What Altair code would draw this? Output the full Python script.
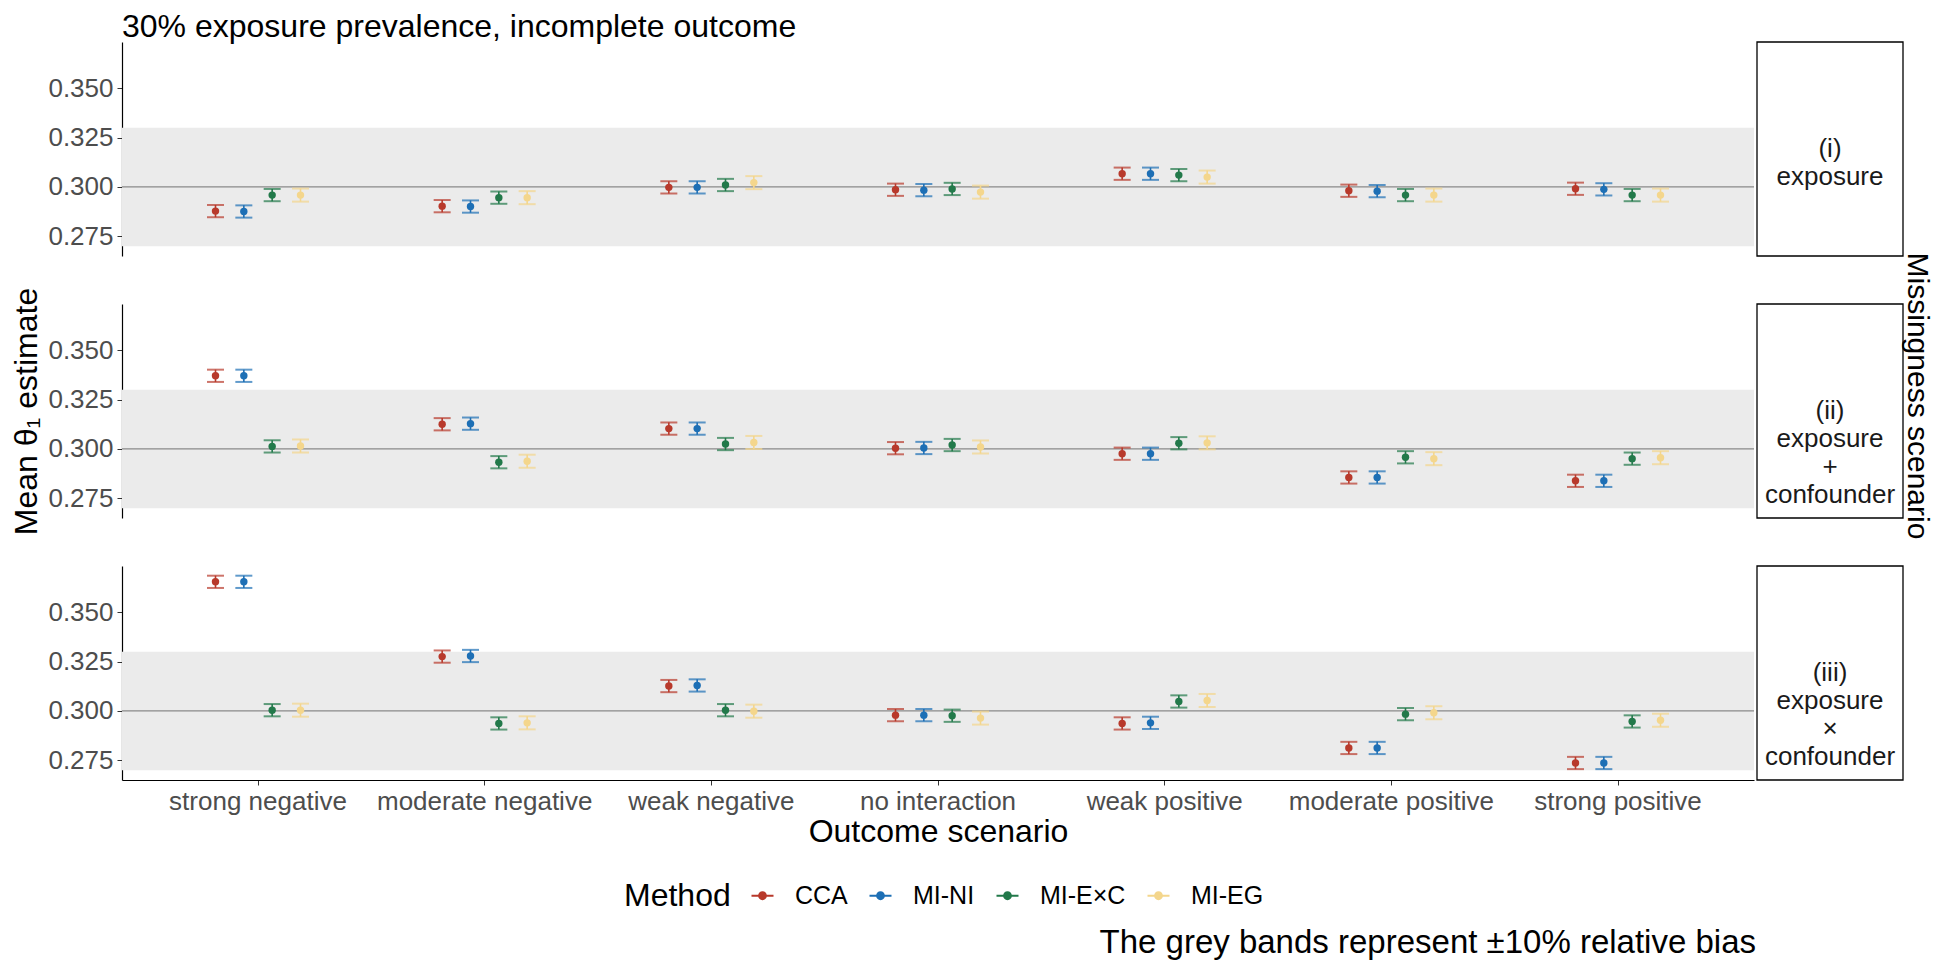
import altair as alt
import pandas as pd

scenarios = ["strong negative", "moderate negative", "weak negative", "no interaction",
             "weak positive", "moderate positive", "strong positive"]
methods = ["CCA", "MI-NI", "MI-E×C", "MI-EG"]
method_colors = ["#B8392B", "#1D6FB5", "#22794A", "#F4D68C"]
panel_labels = ["(i)\nexposure", "(ii)\nexposure\n+\nconfounder", "(iii)\nexposure\n×\nconfounder"]

# mean estimates, panel (i)
est_i_cca = [0.2878, 0.2903, 0.2998, 0.2986, 0.3067, 0.2981, 0.2991]
est_i_ni = [0.2876, 0.2901, 0.2998, 0.2984, 0.3067, 0.2979, 0.2988]
est_i_exc = [0.2959, 0.2946, 0.3010, 0.2990, 0.3060, 0.2959, 0.2959]
est_i_eg = [0.2959, 0.2946, 0.3022, 0.2974, 0.3050, 0.2959, 0.2959]
# panel (ii)
est_ii_cca = [0.3370, 0.3125, 0.3103, 0.3004, 0.2976, 0.2856, 0.2839]
est_ii_ni = [0.3370, 0.3128, 0.3103, 0.3005, 0.2976, 0.2856, 0.2839]
est_ii_exc = [0.3013, 0.2933, 0.3025, 0.3020, 0.3029, 0.2958, 0.2951]
est_ii_eg = [0.3015, 0.2938, 0.3033, 0.3010, 0.3031, 0.2951, 0.2956]
# panel (iii)
est_iii_cca = [0.3653, 0.3275, 0.3126, 0.2979, 0.2937, 0.2813, 0.2737]
est_iii_ni = [0.3653, 0.3278, 0.3129, 0.2979, 0.2940, 0.2813, 0.2737]
est_iii_exc = [0.3004, 0.2937, 0.3004, 0.2976, 0.3048, 0.2984, 0.2947]
est_iii_eg = [0.3004, 0.2940, 0.2999, 0.2964, 0.3053, 0.2991, 0.2953]

# half-width of the error bars per method
half_width = [0.0031, 0.0031, 0.0031, 0.0033]

true_value = 0.30
band_low, band_high = 0.27, 0.33
y_domain = [0.2651, 0.3733]
y_ticks = [0.275, 0.300, 0.325, 0.350]

panels = [
    [est_i_cca, est_i_ni, est_i_exc, est_i_eg],
    [est_ii_cca, est_ii_ni, est_ii_exc, est_ii_eg],
    [est_iii_cca, est_iii_ni, est_iii_exc, est_iii_eg],
]

FONT = "Liberation Sans"
PW, PH = 1632, 214
STRIP_GAP, STRIP_W = 3, 146
STEP = PW / 7.2          # width of one category band
DODGE = STEP / 8         # spacing between dodged methods


def panel_df(ests):
    rows = []
    for m, series in enumerate(ests):
        for s, v in enumerate(series):
            rows.append({"scenario": scenarios[s], "method": methods[m], "est": v,
                         "lo": v - half_width[m], "hi": v + half_width[m]})
    return pd.DataFrame(rows)


color_enc = alt.Color(
    "method:N",
    scale=alt.Scale(domain=methods, range=method_colors),
    legend=alt.Legend(
        title="Method", orient="none", direction="horizontal", titleOrient="left",
        legendX=502, legendY=841,
        symbolType="M-1,-0.09H1V0.09H-1Z M-0.4,0 A0.4,0.4 0 1,1 0.4,0 A0.4,0.4 0 1,1 -0.4,0 Z",
        symbolSize=484, symbolOpacity=1, symbolStrokeWidth=0,
        labelFontSize=25, titleFontSize=32, titleFontWeight="normal",
        labelFont=FONT, titleFont=FONT, columnPadding=20, titlePadding=19, labelOffset=20,
        labelColor="black", titleColor="black",
    ),
)


def make_panel(idx):
    df = panel_df(panels[idx])
    bottom = idx == 2
    middle = idx == 1
    x_axis = alt.Axis(
        title="Outcome scenario", labelFontSize=26, titleFontSize=32, labelColor="#4D4D4D",
        titleColor="black", titleFontWeight="normal", labelFont=FONT, titleFont=FONT,
        domainColor="black", domainWidth=1.2, tickColor="#333333", tickSize=5, labelPadding=3,
        titlePadding=2, labelAngle=0, labelLimit=400,
    ) if bottom else None
    x_enc = alt.X("scenario:N", sort=scenarios,
                  scale=alt.Scale(domain=scenarios, paddingInner=0, paddingOuter=0.1),
                  axis=x_axis)
    xo_enc = alt.XOffset("method:N", sort=methods,
                         scale=alt.Scale(domain=methods, paddingInner=0, paddingOuter=0,
                                         range=[STEP / 2 - 2 * DODGE, STEP / 2 + 2 * DODGE]))
    y_scale = alt.Scale(domain=y_domain, nice=False, zero=False)
    y_axis = alt.Axis(
        values=y_ticks, format=".3f", title="Mean θ₁ estimate" if middle else None,
        labelFontSize=26, titleFontSize=32, labelColor="#4D4D4D", titleColor="black",
        titleFontWeight="normal", labelFont=FONT, titleFont=FONT, domainColor="black",
        domainWidth=1.2, tickColor="#333333", tickSize=5, labelPadding=4, titlePadding=4,
        grid=False,
    )

    one = pd.DataFrame({"lab": [panel_labels[idx]]})
    band = alt.Chart(one).mark_rect(color="#EBEBEB").encode(
        x=alt.value(0), x2=alt.value(PW),
        y=alt.Y("lo:Q", scale=y_scale, axis=y_axis), y2="hi:Q",
    ).transform_calculate(lo=str(band_low), hi=str(band_high))
    ref = alt.Chart(one).mark_rule(color="#8A8A8A", strokeWidth=1.3).encode(
        x=alt.value(0), x2=alt.value(PW), y=alt.datum(true_value),
    )
    base = alt.Chart(df)
    bars = base.mark_rule(strokeWidth=1.6).encode(
        x=x_enc, xOffset=xo_enc, y=alt.Y("lo:Q", scale=y_scale), y2="hi:Q", color=color_enc,
    )
    cap_lo = base.mark_tick(size=17, thickness=2).encode(
        x=x_enc, xOffset=xo_enc, y=alt.Y("lo:Q", scale=y_scale), color=color_enc,
    )
    cap_hi = base.mark_tick(size=17, thickness=2).encode(
        x=x_enc, xOffset=xo_enc, y=alt.Y("hi:Q", scale=y_scale), color=color_enc,
    )
    pts = base.mark_point(filled=True, size=55, opacity=1).encode(
        x=x_enc, xOffset=xo_enc, y=alt.Y("est:Q", scale=y_scale), color=color_enc,
    )
    strip_box = alt.Chart(one).mark_rect(fill="white", stroke="black", strokeWidth=1.3).encode(
        x=alt.value(PW + STRIP_GAP), x2=alt.value(PW + STRIP_GAP + STRIP_W),
        y=alt.value(0), y2=alt.value(PH),
    )
    strip_text = alt.Chart(one).mark_text(
        lineBreak="\n", fontSize=26, font=FONT, color="#1A1A1A", align="center", baseline="middle",
        lineHeight=28,
    ).encode(
        x=alt.value(PW + STRIP_GAP + STRIP_W / 2), y=alt.value(PH / 2), text="lab:N",
    )
    layers = [band, ref, bars, cap_lo, cap_hi, pts, strip_box, strip_text]
    if middle:
        side = alt.Chart(one).mark_text(
            fontSize=30, font=FONT, color="black", angle=90, align="center", baseline="middle",
            text="Missingness scenario",
        ).encode(x=alt.value(PW + STRIP_GAP + STRIP_W + 14), y=alt.value(92))
        layers.append(side)
    if bottom:
        cap = alt.Chart(one).mark_text(
            fontSize=33, font=FONT, color="black", align="right", baseline="middle",
            text="The grey bands represent ±10% relative bias",
        ).encode(x=alt.value(PW + 2), y=alt.value(PH + 163))
        layers.append(cap)
    ch = alt.layer(*layers).properties(width=PW, height=PH)
    if idx == 0:
        ch = ch.properties(title=alt.TitleParams(
            "30% exposure prevalence, incomplete outcome", anchor="start", frame="group",
            fontSize=32, font=FONT, fontWeight="normal", color="black", offset=-3,
        ))
    return ch


chart = alt.vconcat(
    make_panel(0), make_panel(1), make_panel(2), spacing=48, bounds="flush"
).resolve_scale(
    x="shared", y="shared", color="shared"
).properties(
    padding={"left": 2, "top": 3, "right": 4, "bottom": 0}, background="white"
).configure_view(stroke="transparent", strokeWidth=0)

chart.save("out.html", embed_options={"renderer": "svg", "actions": False})
